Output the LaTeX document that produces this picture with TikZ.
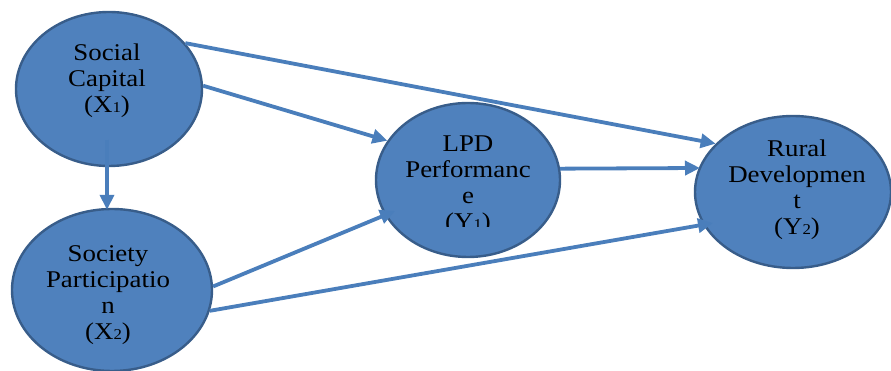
\documentclass[tikz,border=0pt]{standalone}
\usepackage{fontspec}
\setmainfont[FakeStretch=1.12]{Liberation Serif}
\usetikzlibrary{shapes.geometric,arrows.meta,calc}
\definecolor{fillblue}{HTML}{4F81BD}
\definecolor{edgeblue}{HTML}{385D8A}
\definecolor{arrowblue}{HTML}{4A7EBB}
\newcommand\lowdigit[1]{{\fontsize{15}{15}\selectfont #1}}
\begin{document}
\begin{tikzpicture}[x=1pt,y=1pt,
  var/.style={ellipse, draw=edgeblue, fill=fillblue, line width=2.4pt, inner sep=0pt},
  lbl/.style={align=center, font=\fontsize{24}{26}\selectfont, text=black, inner sep=0pt},
  link/.style={draw=arrowblue, line width=3.8pt, -{Triangle[length=15pt,width=14pt]}}]
\useasboundingbox (0,0) rectangle (891,371);
\clip (0,0) rectangle (891,371);
% variables
\node[var, minimum width=186pt, minimum height=154pt] (sc) at (109,282) {};
\node[var, minimum width=200pt, minimum height=162pt] (sp) at (112,81) {};
\node[var, minimum width=184pt, minimum height=154pt] (lpd) at (468,191) {};
\node[var, minimum width=196pt, minimum height=152pt] (rd) at (793,179) {};
% connectors
\draw[link] (sc.31) -- (rd.148);
\draw[link] (sc.2) -- (lpd.154);
\draw[link] ($(sc.center)+(-2,-51)$) -- ($(sp.north)+(-5,-2)$);
\draw[link] (sp.2) -- ($(lpd.center)+(-73,-31)$);
\draw[link] (sp.-12) -- ($(rd.center)+(-80,-31)$);
\draw[link] (lpd.7) -- ($(rd.center)+(-93,24)$);
% labels
\node[lbl, anchor=base] (sct) at (107,258) {Social\\Capital\\(X\lowdigit{1})};
\node[lbl, anchor=base] (spt) at (108,31) {Society\\Participatio\\n\\(X\lowdigit{2})};
\begin{scope}
  \clip (360,144) rectangle (580,300);
  \node[lbl, anchor=base] (lpdt) at (468,141) {LPD\\Performanc\\e\\(Y\lowdigit{1})};
\end{scope}
\node[lbl, anchor=base] (rdt) at (797,136) {Rural\\Developmen\\t\\(Y\lowdigit{2})};
\end{tikzpicture}
\end{document}
